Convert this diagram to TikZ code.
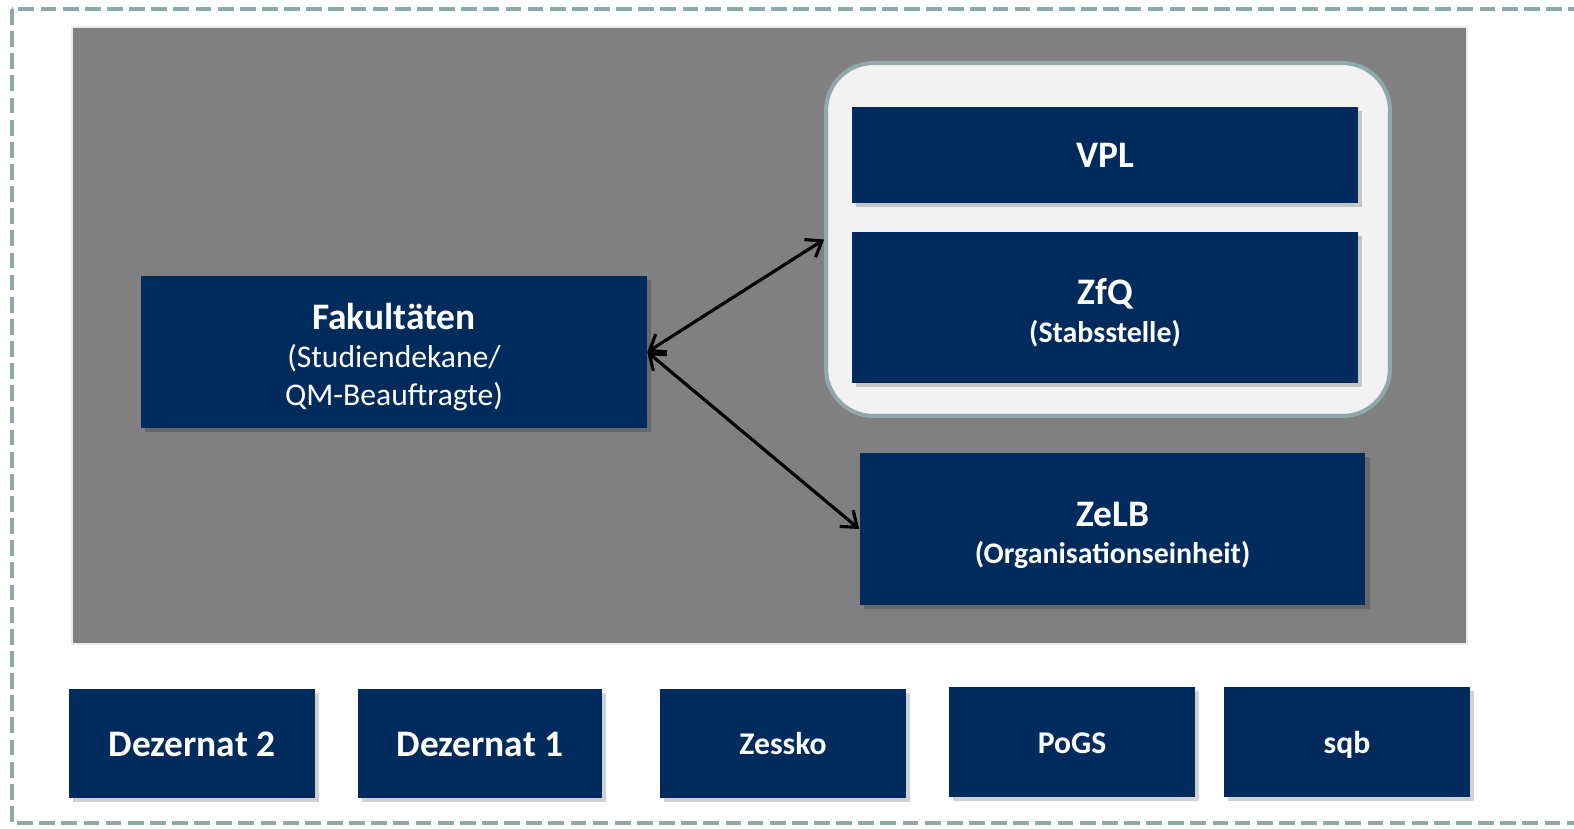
\documentclass[tikz,border=0pt]{standalone}
\usepackage{fontspec}
\setmainfont{Carlito}
\usepackage{tikz}
\usetikzlibrary{arrows.meta,positioning,shadows}

\definecolor{navy}{RGB}{0,43,92}
\definecolor{teal}{RGB}{143,169,171}
\definecolor{midgray}{RGB}{128,128,128}
\definecolor{paper}{RGB}{242,242,242}

\newcommand{\lift}{\rule{0pt}{21pt}}

\begin{document}
\begin{tikzpicture}[x=0.02cm, y=-0.02cm,
    box/.style={fill=navy, text=white, align=center, inner sep=0pt,
        drop shadow={shadow xshift=2.5pt, shadow yshift=-2.5pt, opacity=0.18, fill=black}},
    big/.style={font=\fontsize{21.3}{24}\selectfont\bfseries, text height=14.5pt, text depth=0pt},
    sub/.style={font=\fontsize{17}{21.5}\selectfont\bfseries},
    subline/.style={font=\fontsize{18}{21.5}\selectfont\bfseries, text height=12.8pt, text depth=0pt},
    link/.style={line width=1.8pt, {Straight Barb[length=8pt,width=12pt]}-{Straight Barb[length=8pt,width=12pt]}}]
    \useasboundingbox (0,0) rectangle (1574,828);

    % outer frame
    \draw[teal, line width=2.3pt, dash pattern=on 9pt off 3.6pt] (12,9) rectangle (1600,823);

    % inner area
    \fill[midgray] (72,27) rectangle (1467,644);
    \draw[white!85!gray, line width=0.6pt] (72,27) rectangle (1467,644);

    % Stabsstelle group
    \node[draw=teal, line width=2.3pt, fill=paper, rounded corners=0.95cm,
        minimum width=11.28cm, minimum height=7.06cm] (stab) at (1108,239.5) {};

    \node[box, big, minimum width=10.12cm, minimum height=1.92cm] (vpl) at (1105,155) {VPL};
    \node[box, sub, minimum width=10.12cm, minimum height=3.02cm] (zfq) at (1105,307.5)
        {\lift{\fontsize{21.3}{24}\selectfont ZfQ}\\(Stabsstelle)};
    \node[box, sub, minimum width=10.12cm, minimum height=3.04cm] (zelb) at (1112.5,529)
        {\lift{\fontsize{21.3}{24}\selectfont ZeLB}\\(Organisationseinheit)};

    \node[box, font=\fontsize{18}{21.5}\selectfont, minimum width=10.12cm, minimum height=3.04cm] (fak) at (394,352)
        {\lift{\fontsize{21.3}{24}\selectfont\bfseries Fakultäten}\\(Studiendekane/\\QM-Beauftragte)};

    % links
    \draw[link] (fak.east) -- (stab.west);
    \draw[link] (fak.east) -- (zelb.west);

    % bottom row
    \node[box, big, minimum width=4.92cm, minimum height=2.18cm] (dez2) at (192,743.5) {Dezernat 2};
    \node[box, big, minimum width=4.88cm, minimum height=2.18cm] (dez1) at (480,743.5) {Dezernat 1};
    \node[box, subline, minimum width=4.92cm, minimum height=2.18cm] (zessko) at (783,743.5) {Zessko};
    \node[box, subline, minimum width=4.92cm, minimum height=2.2cm] (pogs) at (1072,742) {PoGS};
    \node[box, subline, minimum width=4.92cm, minimum height=2.2cm] (sqb) at (1347,742) {sqb};
\end{tikzpicture}
\end{document}
